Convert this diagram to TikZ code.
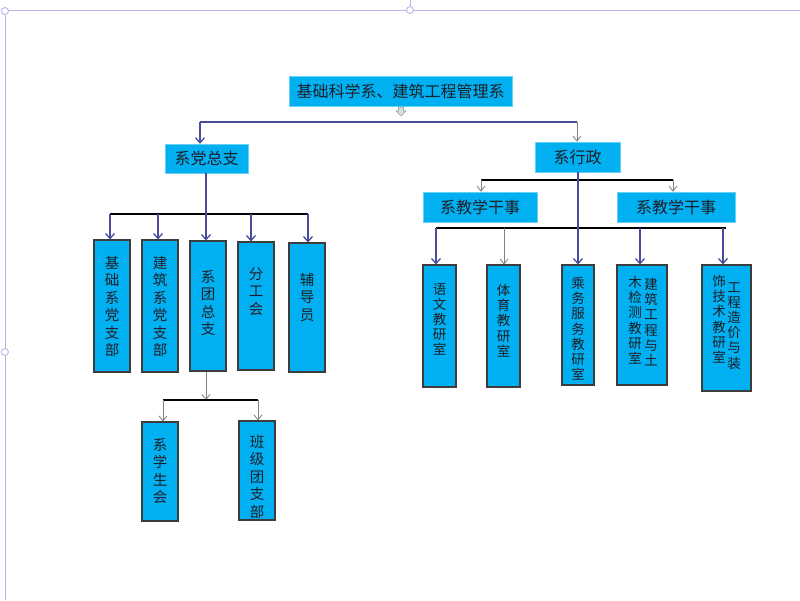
\documentclass[tikz,border=0pt]{standalone}
\usepackage{fontspec}
\newfontfamily\cjk{Noto Sans CJK SC}
\usetikzlibrary{arrows.meta}
\definecolor{boxcyan}{HTML}{00B0F0}
\definecolor{navyc}{HTML}{4B4B9E}
\definecolor{framec}{HTML}{B8B8EE}
\definecolor{bordergray}{HTML}{3C3C3C}
\definecolor{textc}{HTML}{1E1E28}
\definecolor{iconc}{HTML}{8AA8A0}
\begin{document}
\begin{tikzpicture}[x=1pt,y=-1pt,
  hbox/.style={fill=boxcyan, draw=boxcyan!60!white, line width=0.6pt, inner sep=0pt, text=textc, font=\cjk\fontsize{16}{18}\selectfont},
  vbox/.style={fill=boxcyan, draw=bordergray, line width=1.1pt, inner sep=0pt},
  vtextA/.style={inner sep=0pt, align=center, text=textc, font=\cjk\fontsize{14.5}{17.5}\selectfont},
  vtextB/.style={inner sep=0pt, align=center, text=textc, font=\cjk\fontsize{13.5}{15.2}\selectfont},
  navyline/.style={draw=navyc, line width=1.3pt},
  navyarr/.style={draw=navyc, line width=1.3pt, -{Straight Barb[length=5pt,width=9pt]}},
  grayarr/.style={draw=gray, line width=0.8pt, -{Straight Barb[length=5pt,width=8pt]}},
  blackline/.style={draw=black, line width=1.8pt},
  framel/.style={draw=framec, line width=1pt},
  handle/.style={draw=framec, line width=0.9pt, fill=white}
]
\useasboundingbox (0,0) rectangle (800,600);
\fill[white] (0,0) rectangle (800,600);

% frame
\draw[framel] (5,10) -- (800,10);
\draw[framel] (5,10) -- (5,600);
\draw[framel] (410,0) -- (410,10);
\draw[handle] (5,11) circle (3.5);
\draw[handle] (410,10) circle (3.5);
\draw[handle] (5,352) circle (3.5);

% top
\node[hbox, minimum width=223pt, minimum height=30pt] (top) at (400.5,91) {基础科学系、建筑工程管理系};
\draw[draw=iconc, fill=iconc!35!white, line width=0.6pt]
  (398.5,107) -- (403.5,107) -- (403.5,111) -- (406,111) -- (401,116) -- (396,111) -- (398.5,111) -- cycle;

\node[hbox, minimum width=83pt, minimum height=29pt] (dz) at (206.5,158.5) {系党总支};
\node[hbox, minimum width=85pt, minimum height=30pt] (xz) at (577.5,157) {系行政};
\node[hbox, minimum width=114pt, minimum height=30pt] (jl) at (480,207) {系教学干事};
\node[hbox, minimum width=118pt, minimum height=30pt] (jr) at (676,207) {系教学干事};

\coordinate (tL) at (200,122);
\coordinate (tR) at (577,122);
\draw[navyline] (tL) -- (tR);
\draw[navyarr] (tL) -- (tL |- dz.north);
\draw[grayarr] (tR) -- (tR |- xz.north);

% left branch boxes
\node[vbox, minimum width=36pt, minimum height=132pt] (b1) at (112,306) {};
\node[vbox, minimum width=36pt, minimum height=132pt] (b2) at (160,306) {};
\node[vbox, minimum width=36pt, minimum height=130pt] (b3) at (208,306) {};
\node[vbox, minimum width=36pt, minimum height=128pt] (b4) at (256,306) {};
\node[vbox, minimum width=36pt, minimum height=129pt] (b5) at (307,307.5) {};
\node[vtextA, anchor=north] (b1t) at (112,256) {基\\础\\系\\党\\支\\部};
\node[vtextA, anchor=north] (b2t) at (160,256) {建\\筑\\系\\党\\支\\部};
\node[vtextA, anchor=north] (b3t) at (208,270) {系\\团\\总\\支};
\node[vtextA, anchor=north] (b4t) at (256,267) {分\\工\\会};
\node[vtextA, anchor=north] (b5t) at (307,273) {辅\\导\\员};

\coordinate (lj) at (206,214);
\coordinate (l1) at (110,214);
\coordinate (l2) at (158,214);
\coordinate (l4) at (251,214);
\coordinate (l5) at (308,214);
\draw[blackline] (l1) -- (l5);
\draw[navyarr] (dz.south -| lj) -- (lj |- b3.north);
\draw[navyarr] (l1) -- (l1 |- b1.north);
\draw[navyarr] (l2) -- (l2 |- b2.north);
\draw[navyarr] (l4) -- (l4 |- b4.north);
\draw[navyarr] (l5) -- (l5 |- b5.north);

% below 系团总支
\node[vbox, minimum width=36pt, minimum height=99pt] (c1) at (160,471.5) {};
\node[vbox, minimum width=36pt, minimum height=99pt] (c2) at (257,470.5) {};
\node[vtextA, anchor=north] (c1t) at (160,438) {系\\学\\生\\会};
\node[vtextA, anchor=north] (c2t) at (257,435) {班\\级\\团\\支\\部};
\coordinate (sj) at (206,400);
\coordinate (s1) at (163,400);
\coordinate (s2) at (258,400);
\draw[grayarr] (b3.south -| sj) -- (sj);
\draw[blackline] (s1) -- (s2);
\draw[grayarr] (s1) -- (s1 |- c1.north);
\draw[grayarr] (s2) -- (s2 |- c2.north);

% right branch
\coordinate (ra) at (481,180);
\coordinate (rb) at (673,180);
\draw[blackline] (ra) -- (rb);
\draw[grayarr] (ra) -- (ra |- jl.north);
\draw[grayarr] (rb) -- (rb |- jr.north);

\node[vbox, minimum width=33pt, minimum height=122pt] (r1) at (439.5,326) {};
\node[vbox, minimum width=33pt, minimum height=122pt] (r2) at (503.5,326) {};
\node[vbox, minimum width=32pt, minimum height=120pt] (r3) at (578,325) {};
\node[vbox, minimum width=50pt, minimum height=120pt] (r4) at (642,325) {};
\node[vbox, minimum width=49pt, minimum height=126pt] (r5) at (726.5,328) {};
\node[vtextB, anchor=north] (r1t) at (439.5,283) {语\\文\\教\\研\\室};
\node[vtextB, anchor=north] (r2t) at (503.5,284) {体\\育\\教\\研\\室};
\node[vtextB, anchor=north] (r3t) at (578,277) {乘\\务\\服\\务\\教\\研\\室};
\node[vtextB, anchor=north] (r4a) at (651,278) {建\\筑\\工\\程\\与\\土};
\node[vtextB, anchor=north] (r4b) at (635,276) {木\\检\\测\\教\\研\\室};
\node[vtextB, anchor=north] (r5a) at (734,282) {工\\程\\造\\价\\与\\装};
\node[vtextB, anchor=north] (r5b) at (719,275) {饰\\技\\术\\教\\研\\室};

\coordinate (q1) at (436,228);
\coordinate (q2) at (504,228);
\coordinate (q3) at (578,228);
\coordinate (q4) at (640,228);
\coordinate (q5) at (726,228);
\coordinate (q5a) at (723,228);
\draw[blackline] (q1) -- (q5);
\draw[navyarr] (xz.south -| q3) -- (q3 |- r3.north);
\draw[navyarr] (q1) -- (q1 |- r1.north);
\draw[grayarr] (q2) -- (q2 |- r2.north);
\draw[navyarr] (q4) -- (q4 |- r4.north);
\draw[navyarr] (q5a) -- (q5a |- r5.north);
\end{tikzpicture}
\end{document}
